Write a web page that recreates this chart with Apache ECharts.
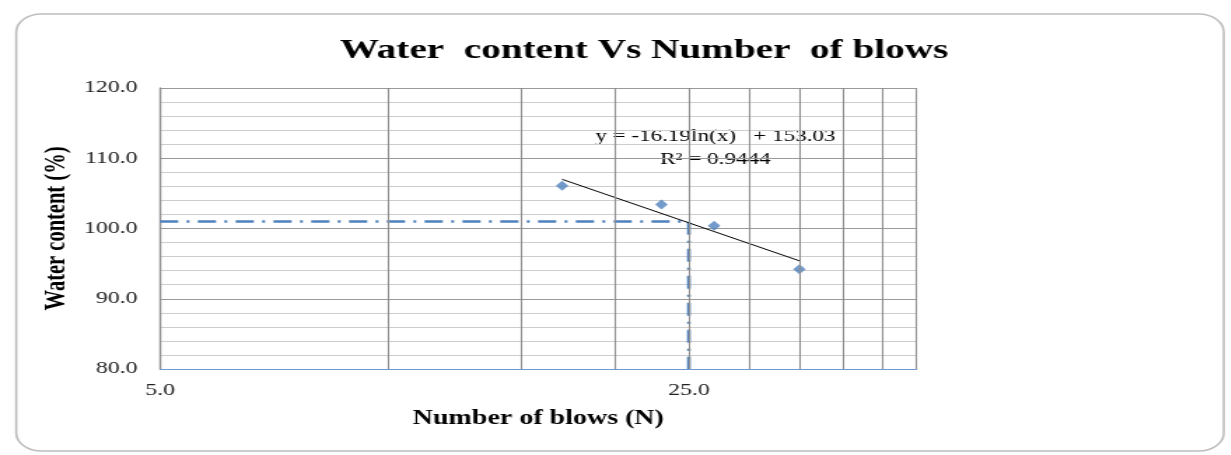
<!DOCTYPE html>
<html>
<head>
<meta charset="utf-8">
<title>Water content Vs Number of blows</title>
<script src="https://cdn.jsdelivr.net/npm/echarts@6.0.0/dist/echarts.min.js"></script>
<style>
  html, body { margin: 0; padding: 0; background: #fff; overflow: hidden; }
  /* the reference picture is stretched sideways, so the chart is drawn narrow and scaled */
  #chart {
    width: 879.3px;
    height: 455px;
    transform: scaleX(1.4);
    transform-origin: 0 0;
  }
</style>
</head>
<body>
<div id="chart"></div>
<script>
// data
const blows = [17, 23, 27, 35]
const waterContent = [106.1, 103.4, 100.4, 94.2]

// trendline y = -16.19ln(x) + 153.03, end points as drawn
const trendBlows = [17, 35]
const trendWater = [107.0, 95.4]

// dash-dot guide to N = 25
const guideBlows = [5, 25, 25]
const guideWater = [101.0, 101.0, 80]

// vertical grid lines of the log axis
const xGridValues = [10, 15, 20, 25, 30, 35, 40, 45, 50]
const xTickLabels = [5, 25]

const serif = '"Liberation Serif", "Times New Roman", serif'
const blue = '#4f81bd'

const chart = echarts.init(document.getElementById('chart'))

const option = {
  animation: false,
  title: {
    text: 'Water  content Vs Number  of blows',
    left: 455,
    top: 32,
    textAlign: 'center',
    textStyle: {
      fontFamily: serif,
      fontWeight: 'bold',
      fontSize: 28,
      color: '#000'
    }
  },
  grid: {
    left: 114.3,
    right: 224.3,
    top: 88,
    bottom: 86
  },
  xAxis: {
    type: 'log',
    logBase: 5,
    min: 5,
    max: 50,
    interval: 1,
    name: 'Number of blows (N)',
    nameLocation: 'middle',
    nameGap: 40,
    nameMoveOverlap: false,
    nameTextStyle: {
      fontFamily: serif,
      fontWeight: 'bold',
      fontSize: 20,
      color: '#000'
    },
    axisLine: { lineStyle: { color: '#6f98d0', width: 1.2 } },
    axisTick: { show: false },
    splitLine: { show: false },
    axisLabel: {
      margin: 13,
      fontFamily: serif,
      fontSize: 17,
      color: '#222',
      formatter: v => (xTickLabels.some(t => Math.abs(t - v) < 1e-6) ? v.toFixed(1) : '')
    }
  },
  yAxis: {
    type: 'value',
    min: 80,
    max: 120,
    interval: 10,
    name: 'Water content (%)',
    nameLocation: 'middle',
    nameGap: 63,
    nameMoveOverlap: false,
    nameTextStyle: {
      fontFamily: serif,
      fontWeight: 'bold',
      fontSize: 20.5,
      color: '#000'
    },
    axisLine: { show: true, lineStyle: { color: '#8c8c8c', width: 1.4 } },
    axisTick: { show: false },
    minorTick: { show: false, splitNumber: 5 },
    splitLine: { lineStyle: { color: '#9a9a9a', width: 1.2 } },
    minorSplitLine: { show: true, lineStyle: { color: '#cdcdcd', width: 1.2 } },
    axisLabel: {
      margin: 16,
      fontFamily: serif,
      fontSize: 17,
      color: '#222',
      formatter: v => v.toFixed(1)
    }
  },
  graphic: [
    {
      type: 'rect',
      z: -10,
      silent: true,
      shape: { x: 11.6, y: 14, width: 862.5, height: 437, r: 18 },
      style: { fill: 'none', stroke: '#bdbdbd', lineWidth: 1.6 }
    },
    {
      type: 'text',
      silent: true,
      x: 511,
      y: 137,
      style: {
        text: 'y = -16.19ln(x)   + 153.03',
        font: '16.5px ' + serif,
        fill: '#000',
        align: 'center',
        verticalAlign: 'middle'
      }
    },
    {
      type: 'text',
      silent: true,
      x: 511,
      y: 160,
      style: {
        text: 'R² = 0.9444',
        font: '16.5px ' + serif,
        fill: '#000',
        align: 'center',
        verticalAlign: 'middle'
      }
    }
  ],
  series: [
    {
      // carries the vertical grid lines
      name: 'grid',
      type: 'line',
      data: [],
      silent: true,
      z: 0,
      markLine: {
        silent: true,
        symbol: 'none',
        label: { show: false },
        lineStyle: { type: 'solid', color: '#8e8e8e', width: 1.1 },
        data: xGridValues.map(v => ({ xAxis: v }))
      }
    },
    {
      name: 'guide',
      type: 'line',
      data: guideBlows.map((x, i) => [x, guideWater[i]]),
      symbol: 'none',
      silent: true,
      z: 2,
      lineStyle: { color: blue, width: 2.6, type: [13, 6, 2, 6] }
    },
    {
      name: 'trend',
      type: 'line',
      data: trendBlows.map((x, i) => [x, trendWater[i]]),
      symbol: 'none',
      z: 3,
      lineStyle: { color: '#000', width: 1 }
    },
    {
      name: 'Water content',
      type: 'scatter',
      data: blows.map((x, i) => [x, waterContent[i]]),
      symbol: 'diamond',
      symbolSize: [9, 10],
      z: 4,
      itemStyle: { color: blue }
    }
  ]
}

chart.setOption(option)

window.addEventListener('resize', () => chart.resize())
</script>
</body>
</html>
